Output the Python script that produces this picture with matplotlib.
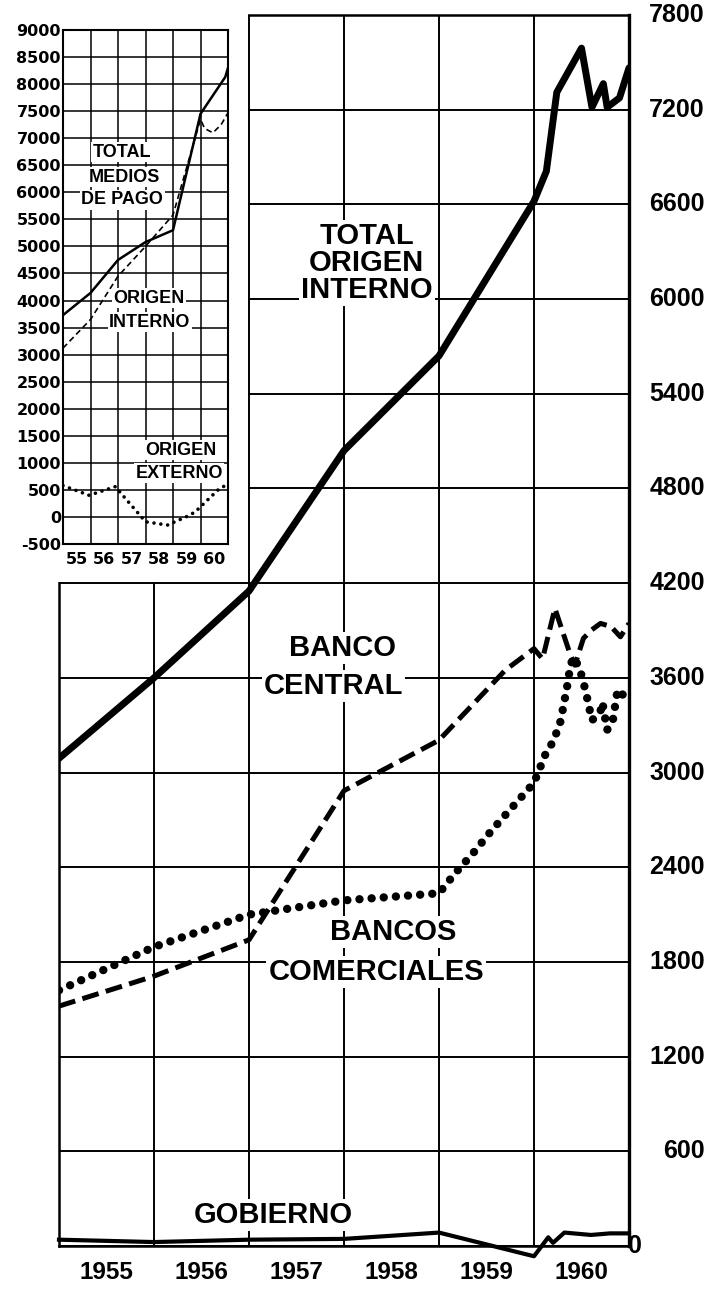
import matplotlib
matplotlib.use('Agg')
import matplotlib.pyplot as plt
from matplotlib.patches import Rectangle
from matplotlib.transforms import blended_transform_factory

# ---- main chart: year boundaries on the grid, monthly detail in 1960
years = [1955, 1956, 1957, 1958, 1959, 1960]
year_labels = ['1955', '1956', '1957', '1958', '1959', '1960']
main_ticks = [0, 600, 1200, 1800, 2400, 3000, 3600, 4200, 4800, 5400, 6000, 6600, 7200, 7800]

total_x = [1955.0, 1956.0, 1957.0, 1958.0, 1959.0, 1960.0, 1960.13, 1960.24,
           1960.5, 1960.61, 1960.73, 1960.77, 1960.9, 1961.0]
total_y = [3090, 3600, 4150, 5040, 5640, 6620, 6810, 7310,
           7590, 7215, 7365, 7215, 7275, 7465]

central_x = [1955.0, 1956.0, 1957.0, 1958.0, 1959.0, 1959.7, 1960.0, 1960.09,
             1960.22, 1960.38, 1960.43, 1960.52, 1960.61, 1960.70, 1960.81,
             1960.91, 1961.0]
central_y = [1520, 1710, 1940, 2885, 3205, 3650, 3785, 3720,
             4040, 3750, 3680, 3850, 3905, 3945, 3925,
             3860, 3945]

comerc_x = [1955.0, 1956.0, 1957.0, 1958.0, 1959.0, 1959.17, 1959.36, 1959.55,
            1959.7, 1960.0, 1960.13, 1960.19, 1960.27, 1960.31, 1960.35, 1960.38,
            1960.41, 1960.46, 1960.51, 1960.56, 1960.61, 1960.70, 1960.72,
            1960.77, 1960.83, 1960.88, 1960.94, 1961.0]
comerc_y = [1620, 1895, 2100, 2190, 2235, 2362, 2490, 2630,
            2732, 2935, 3130, 3185, 3300, 3420, 3550, 3665,
            3730, 3685, 3600, 3470, 3330, 3390, 3445,
            3270, 3330, 3525, 3490, 3460]

gob_x = [1955.0, 1956.0, 1957.0, 1958.0, 1959.0, 1960.0, 1960.15, 1960.2,
         1960.32, 1960.6, 1960.8, 1961.0]
gob_y = [40, 25, 40, 45, 85, -65, 55, 20, 85, 70, 80, 80]

# ---- inset: medios de pago
inset_labels = ['55', '56', '57', '58', '59', '60']
inset_ticks = list(range(-500, 9001, 500))

medios_x = [1955.0, 1956.0, 1957.0, 1958.0, 1959.0, 1960.0, 1960.9, 1961.0]
medios_y = [3730, 4140, 4750, 5080, 5300, 7450, 8130, 8300]

interno_x = [1955.0, 1956.0, 1957.0, 1958.0, 1959.0, 1960.0, 1960.15,
             1960.45, 1960.75, 1961.0]
interno_y = [3120, 3650, 4450, 5000, 5580, 7350, 7180, 7100, 7250, 7470]

externo_x = [1955.0, 1955.95, 1956.9, 1957.85, 1958.0, 1958.4, 1958.8,
             1959.47, 1959.8, 1960.7, 1961.0]
externo_y = [580, 400, 560, 0, -90, -120, -150, 0, 90, 530, 600]

FONT = ['Liberation Sans', 'DejaVu Sans']
W, H = 711, 1294

fig = plt.figure(figsize=(W / 100, H / 100), dpi=100)
fig.patch.set_facecolor('white')

ax = fig.add_axes([59 / W, (H - 1246) / H, 570 / W, 1231 / H])
ax.set_xlim(1955, 1961)
ax.set_ylim(0, 7800)
ax.set_axisbelow(True)
ax.set_xticks(range(1955, 1962))
ax.set_xticklabels([])
ax.set_xticks([y + 0.5 for y in years], minor=True)
ax.set_xticklabels(year_labels, minor=True, fontsize=17.5, fontweight='bold',
                   family=FONT)
ax.set_yticks(main_ticks)
ax.tick_params(which='both', length=0)
ax.tick_params(axis='x', which='minor', pad=11)
ax.tick_params(axis='y', labelleft=False)
ax.grid(True, which='major', color='black', lw=1.4)
for s in ax.spines.values():
    s.set_linewidth(1.8)
ax.spines['right'].set_linewidth(2.4)

# right hand value labels
tr = blended_transform_factory(ax.transAxes, ax.transData)
for v in main_ticks:
    if v == 0:
        ax.text(1.0105, v, str(v), transform=tr, ha='center', va='center',
                fontsize=18, fontweight='bold', family=FONT)
    else:
        ax.text(1.133, v, str(v), transform=tr, ha='right', va='center',
                fontsize=18, fontweight='bold', family=FONT)

# blank corner that holds the inset
ax.add_patch(Rectangle((1954.9, 4210), 2.088, 3750, facecolor='white',
                       edgecolor='none', zorder=2.6, clip_on=False))

ax.plot(total_x, total_y, color='black', lw=5, solid_joinstyle='round',
        solid_capstyle='round', zorder=4)
ax.plot(central_x, central_y, color='black', lw=3.6, ls=(0, (3.4, 1.5)),
        dash_capstyle='butt', zorder=4)
ax.plot(comerc_x, comerc_y, color='black', lw=6, ls=(0, (0.01, 1.45)),
        dash_capstyle='round', zorder=4)
ax.plot(gob_x, gob_y, color='black', lw=3, solid_joinstyle='round',
        zorder=4, clip_on=False)

box = dict(facecolor='white', edgecolor='none', pad=1.5)
lab = dict(fontsize=21, fontweight='bold', family=FONT, ha='center',
           va='center', bbox=box, zorder=5)
ax.text(1958.24, 6230, 'TOTAL\nORIGEN\nINTERNO', linespacing=0.95,
        multialignment='center', **lab)
ax.text(1957.98, 3789, 'BANCO', **lab)
ax.text(1957.89, 3548, 'CENTRAL', **lab)
ax.text(1958.52, 1990, 'BANCOS', **lab)
ax.text(1958.34, 1736, 'COMERCIALES', **lab)
ax.text(1957.26, 196, 'GOBIERNO', **lab)

# ---- inset
ins = fig.add_axes([63 / W, (H - 544) / H, 165 / W, 514 / H])
ins.set_xlim(1955, 1961)
ins.set_ylim(-500, 9000)
ins.set_axisbelow(True)
ins.set_xticks(range(1955, 1962))
ins.set_xticklabels([])
ins.set_xticks([y + 0.5 for y in years], minor=True)
ins.set_xticklabels(inset_labels, minor=True, fontsize=11.5, fontweight='bold')
ins.set_yticks(inset_ticks)
ins.set_yticklabels([str(v) for v in inset_ticks], fontsize=11.5,
                    fontweight='bold')
ins.tick_params(which='both', length=0)
ins.tick_params(axis='y', pad=1.5)
ins.tick_params(axis='x', which='minor', pad=6)
ins.grid(True, which='major', color='black', lw=1.1)
for s in ins.spines.values():
    s.set_linewidth(1.5)

ins.plot(medios_x, medios_y, color='black', lw=1.8, zorder=4)
ins.plot(interno_x, interno_y, color='black', lw=1.2, ls=(0, (3.5, 2.2)),
         zorder=4)
ins.plot(externo_x, externo_y, color='black', lw=2.6, ls=(0, (0.01, 1.9)),
         dash_capstyle='round', zorder=4)

ilab = dict(fontsize=13, fontweight='bold', family=FONT, ha='center',
            va='center', bbox=dict(facecolor='white', edgecolor='none', pad=1),
            zorder=5)
ins.text(1957.15, 6745, 'TOTAL', **ilab)
ins.text(1957.25, 6283, 'MEDIOS', **ilab)
ins.text(1957.15, 5858, 'DE PAGO', **ilab)
ins.text(1958.13, 4046, 'ORIGEN', **ilab)
ins.text(1958.16, 3602, 'INTERNO', **ilab)
ins.text(1959.29, 1237, 'ORIGEN', **ilab)
ins.text(1959.22, 811, 'EXTERNO', **ilab)

fig.savefig('out.png', dpi=100, facecolor='white')
